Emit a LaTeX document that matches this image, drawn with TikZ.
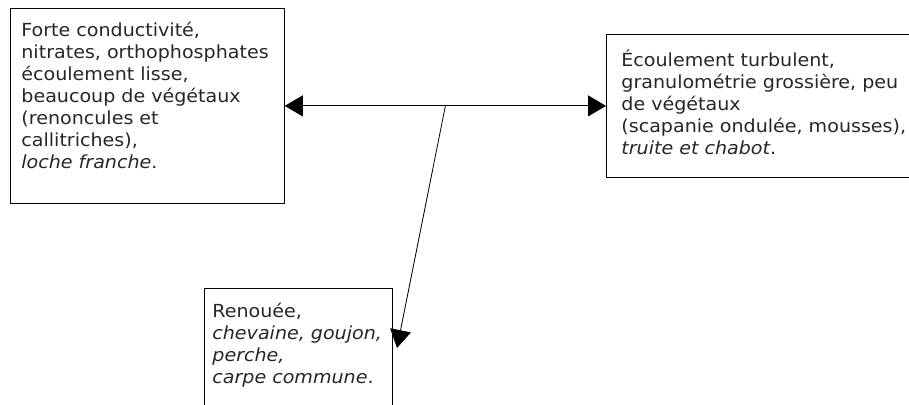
\documentclass[tikz,border=0pt]{standalone}
\usepackage{fontspec}
\setmainfont{DejaVu Sans}[FakeStretch=1.06]
\usetikzlibrary{arrows.meta,calc}
\newcommand{\habfont}{\fontsize{18}{22}\selectfont\hyphenpenalty=10000}
\tikzset{
	habitat/.style={draw,line width=0.8pt,anchor=north west,align=left,inner ysep=0pt,font=\habfont,text=black!85},
	link/.style={line width=0.8pt}
}
\begin{document}
\begin{tikzpicture}[line cap=round,line join=round,>={Triangle[length=18pt,width=21pt]},x=1pt,y=1pt]
			\useasboundingbox (0,0) rectangle (909,404);
			\clip (0,0) rectangle (909,404);
			% the three habitats
			\node[habitat,inner xsep=11pt,text width=252pt,text height=28pt,text depth=167pt] (calme) at (10,396) {Forte conductivité,\\ nitrates, orthophosphates\\ écoulement lisse,\\ beaucoup de végétaux\\ (renoncules et\\ callitriches),\\ \textit{loche franche}.};
			\node[habitat,inner xsep=15pt,text width=300pt,text height=32pt,text depth=111pt] (vif) at (606,370) {Écoulement turbulent,\\ granulométrie grossière, peu\\ de végétaux\\ (scapanie ondulée, mousses),\\ \textit{truite et chabot}.};
			\node[habitat,inner xsep=8pt,text width=172pt,text height=29pt,text depth=100pt] (lent) at (204,116) {Renouée,\\ \textit{chevaine, goujon,}\\ \textit{perche,}\\ \textit{carpe commune}.};
			% arrows
			\coordinate (fourche) at ($(calme.east)!0.5!(vif.west)$);
			\coordinate (pointe) at (397,56);
			\draw [link,<->] (calme.east) -- (vif.west);
			\draw [link,->] (fourche) -- (pointe);
\end{tikzpicture}
\end{document}
